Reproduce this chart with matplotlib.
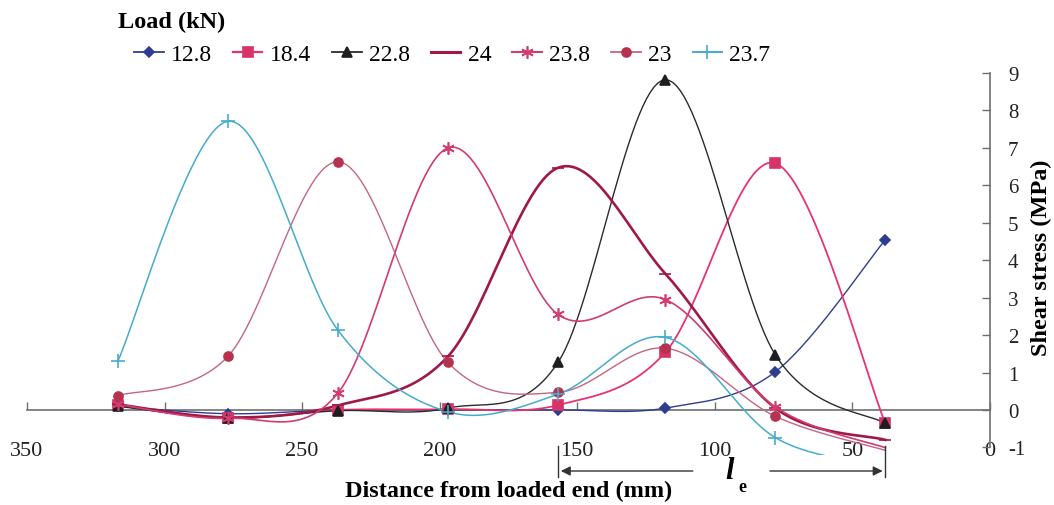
import numpy as np
import matplotlib.pyplot as plt
from matplotlib.lines import Line2D

plt.rcParams['font.family'] = ['Liberation Serif', 'DejaVu Serif']
plt.rcParams['axes.unicode_minus'] = False

# distance from loaded end (mm) of the gauge positions
distance = [317, 277, 237, 197, 157, 118, 78, 38]
loads = ['12.8', '18.4', '22.8', '24', '23.8', '23', '23.7']

# shear stress (MPa) at each gauge for each load level
stress_12_8 = [0.10, -0.10, 0.00, 0.00, 0.00, 0.05, 1.02, 4.55]
stress_18_4 = [0.12, -0.22, 0.00, 0.02, 0.13, 1.54, 6.59, -0.36]
stress_22_8 = [0.10, -0.22, -0.02, 0.05, 1.27, 8.82, 1.47, -0.36]
stress_24 = [0.15, -0.20, 0.12, 1.43, 6.47, 3.64, 0.05, -0.80]
stress_23_8 = [0.15, -0.22, 0.45, 7.00, 2.55, 2.95, 0.08, -1.01]
stress_23 = [0.38, 1.43, 6.63, 1.27, 0.47, 1.65, -0.17, -1.08]
stress_23_7 = [1.30, 7.71, 2.13, -0.05, 0.42, 1.94, -0.74, -1.50]

series = [stress_12_8, stress_18_4, stress_22_8, stress_24,
          stress_23_8, stress_23, stress_23_7]

styles = [
    dict(color='#2E3D8F', lw=1.0, marker='D', ms=5, mfc='#2E3D8F', mec='#2E3D8F'),
    dict(color='#E8336F', lw=1.3, marker='s', ms=6.5, mfc='#D63368', mec='#D63368'),
    dict(color='#2B2B2B', lw=1.0, marker='^', ms=6.5, mfc='#1E1E1E', mec='#1E1E1E'),
    dict(color='#A01848', lw=1.9, marker='_', ms=9, mfc='#A01848', mec='#A01848'),
    dict(color='#D23C70', lw=1.2, marker=(6, 2, 0), ms=9, mfc='#D23C70', mec='#D23C70'),
    dict(color='#C4667C', lw=1.0, marker='o', ms=6.5, mfc='#B5334F', mec='#B5334F'),
    dict(color='#45ABCF', lw=1.1, marker='+', ms=10, mfc='#45ABCF', mec='#45ABCF'),
]


def smooth(x, y, n=30):
    # Excel style smoothed line (Bezier through the points)
    p = np.column_stack([x, y]).astype(float)
    ext = np.vstack([p[0], p, p[-1]])
    t = np.linspace(0, 1, n)[:, None]
    out = []
    for i in range(len(p) - 1):
        p0, p3 = ext[i + 1], ext[i + 2]
        c1 = p0 + (ext[i + 2] - ext[i]) / 6
        c2 = p3 - (ext[i + 3] - ext[i + 1]) / 6
        seg = (1 - t) ** 3 * p0 + 3 * (1 - t) ** 2 * t * c1 + 3 * (1 - t) * t ** 2 * c2 + t ** 3 * p3
        out.append(seg if i == 0 else seg[1:])
    s = np.vstack(out)
    return s[:, 0], s[:, 1]


W, H = 1054, 506
fig = plt.figure(figsize=(W / 100, H / 100), dpi=100)
ymin, ymax = -1.2, 9
ax = fig.add_axes([27 / W, 1 - 455.9 / H, 963 / W, 381.9 / H])
ax.set_xlim(350, 0)
ax.set_ylim(ymin, ymax)

handles = []
for vals, st, lab in zip(series, styles, loads):
    sx, sy = smooth(distance, vals)
    ax.plot(sx, sy, color=st['color'], lw=st['lw'], zorder=2)
    # markers only inside the axis range (-1 .. 9), as in the source chart
    xv = np.array(distance, dtype=float)
    yv = np.array(vals, dtype=float)
    keep = yv >= -1
    ax.plot(xv[keep], yv[keep], ls='none', marker=st['marker'], ms=st['ms'],
            mfc=st['mfc'], mec=st['mec'], mew=1.2, zorder=3)
    handles.append(Line2D([], [], color=st['color'], lw=st['lw'] + 0.3, marker=st['marker'],
                          ms=st['ms'], mfc=st['mfc'], mec=st['mec'], mew=1.2, label=lab))

axis_col = '#6E6E6E'
for s in ['top', 'left', 'bottom']:
    ax.spines[s].set_visible(False)
ax.spines['right'].set_bounds(-1, 9)
ax.spines['right'].set_color(axis_col)
ax.spines['right'].set_linewidth(1.2)
ax.yaxis.tick_right()
ax.set_yticks(range(-1, 10))
ax.tick_params(axis='y', direction='in', length=6, width=1, color=axis_col,
               labelsize=15, pad=13, labelcolor='#222222')

# x tick labels sit low, axis line at zero
ax.set_xticks(range(350, -1, -50))
ax.tick_params(axis='x', length=0, labelsize=16, pad=-10, labelcolor='#222222')
zero = ax.secondary_xaxis(-ymin / (ymax - ymin))
zero.set_xticks(range(350, -1, -50))
zero.spines['bottom'].set_color(axis_col)
zero.spines['bottom'].set_linewidth(1.2)
zero.tick_params(direction='in', length=6, width=1, color=axis_col, labelbottom=False)

ax.set_xlabel('Distance from loaded end (mm)', fontsize=17.5, fontweight='bold')
ax.xaxis.set_label_coords(0.5, -0.066)
ax.yaxis.set_label_position('right')
ax.set_ylabel('Shear stress (MPa)', fontsize=17.5, fontweight='bold')
ax.yaxis.set_label_coords(1.042, 0.52)

# embedment length marker
x_start, x_end = distance[4], distance[7]
ya, yb, yc = -0.96, -1.78, -1.63
for xv in (x_start, x_end):
    ax.plot([xv, xv], [ya, yb], color='#333333', lw=1.0, clip_on=False)
ax.annotate('', xy=(x_start, yc), xytext=(107, yc),
            arrowprops=dict(arrowstyle='-|>', color='#333333', lw=1.0, mutation_scale=14),
            annotation_clip=False)
ax.annotate('', xy=(x_end, yc), xytext=(81, yc),
            arrowprops=dict(arrowstyle='-|>', color='#333333', lw=1.0, mutation_scale=14),
            annotation_clip=False)
ax.text(94.5, -1.62, 'l', fontsize=22, fontweight='bold', fontstyle='italic',
        ha='center', va='center', clip_on=False)
ax.text(90.0, -2.05, 'e', fontsize=13, fontweight='bold', ha='center', va='center', clip_on=False)

fig.text(118 / W, 1 - 22 / H, 'Load (kN)', fontsize=17.5, fontweight='bold', ha='left', va='center')
fig.legend(handles=handles, loc='center left', bbox_to_anchor=(134 / W, 1 - 55 / H),
           ncol=7, frameon=False, fontsize=17, handlelength=1.25, handletextpad=0.3,
           columnspacing=0.9, borderpad=0, borderaxespad=0)

fig.savefig('out.png', dpi=100, facecolor='white')
